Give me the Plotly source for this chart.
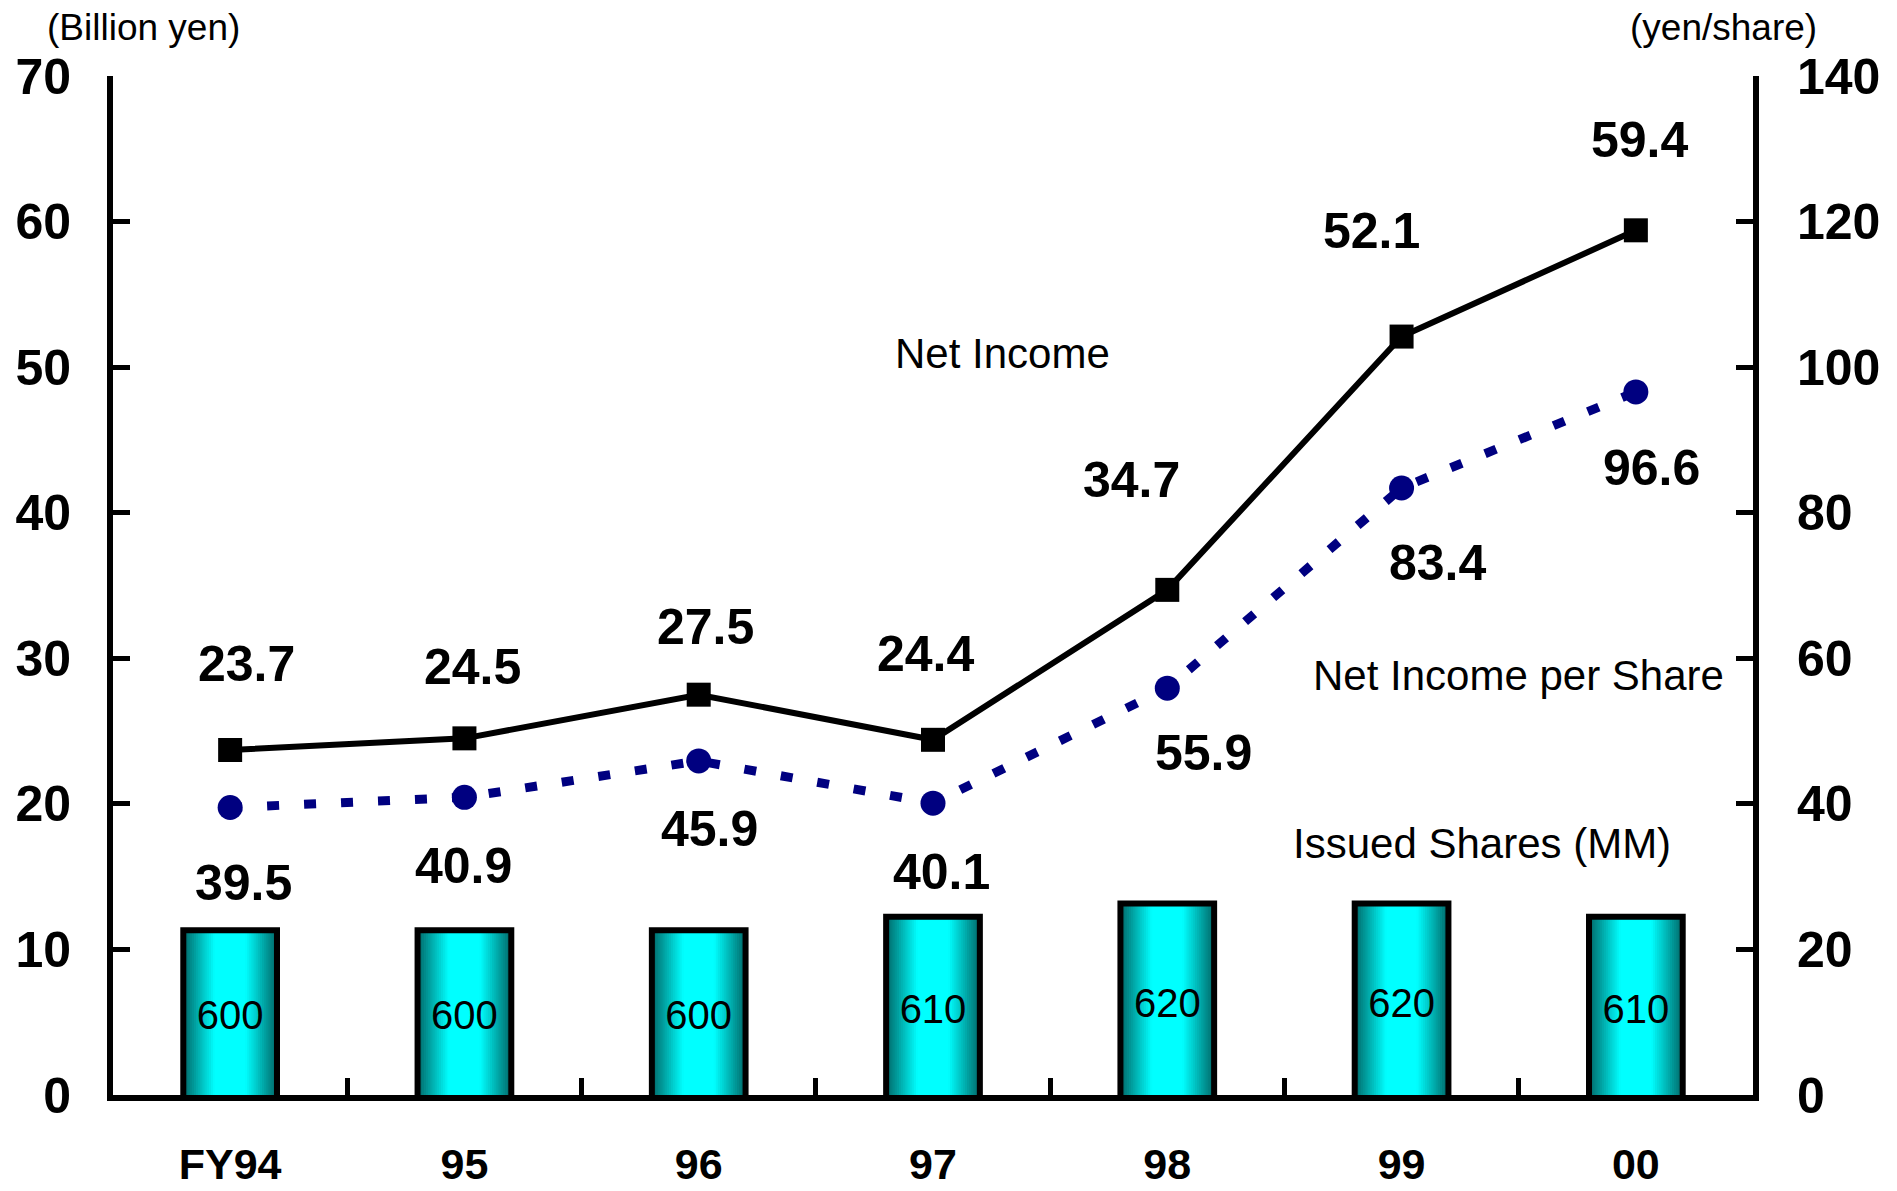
import plotly.graph_objects as go

# ---- data ----
years = ["FY94", "95", "96", "97", "98", "99", "00"]
net_income = [23.7, 24.5, 27.5, 24.4, 34.7, 52.1, 59.4]          # billion yen
eps = [39.5, 40.9, 45.9, 40.1, 55.9, 83.4, 96.6]                 # yen / share
issued_shares = [600, 600, 600, 610, 620, 620, 610]              # million shares
left_ticks = [0, 10, 20, 30, 40, 50, 60, 70]
right_ticks = [0, 20, 40, 60, 80, 100, 120, 140]

# ---- styling ----
NUM_FONT = "Liberation Sans, Arial, sans-serif"
TXT_FONT = "Liberation Sans, Arial, sans-serif"
SHARES_RANGE = [477.7, 1234.5]   # hidden scale used for the share columns
BAR_W = 0.40
N_LAYERS = 22
EDGE = (0, 108, 108)
CENTER = (0, 255, 255)

# label offsets (pixels) for the value labels of each line
ni_shift = [(16, 86), (8, 71), (7, 68), (-7, 86), (-36, 110), (-30, 106), (4, 90)]
eps_shift = [(13, -75), (-1, -69), (11, -68), (8, -69), (36, -65), (36, -75), (16, -76)]

W, H = 1897, 1191
L, R, T, B = 113, 144, 76, 96

fig = go.Figure()

# share columns: layered bars give a horizontal teal→cyan→teal gradient
for i in range(N_LAYERS):
    frac = 1 - i / N_LAYERS
    t = 0.0 if frac <= 0.35 else (frac - 0.35) / 0.65
    r, g, b = [round(c + (e - c) * t) for c, e in zip(CENTER, EDGE)]
    fig.add_trace(go.Bar(
        x=years, y=issued_shares, width=BAR_W * frac, yaxis="y",
        marker=dict(color=f"rgb({r},{g},{b})", line=dict(width=0)),
        hoverinfo="skip", showlegend=False))
# outline
fig.add_trace(go.Bar(
    x=years, y=issued_shares, width=BAR_W, yaxis="y",
    marker=dict(color="rgba(0,0,0,0)", line=dict(color="black", width=6)),
    hoverinfo="skip", showlegend=False))
# share counts inside the columns
fig.add_trace(go.Scatter(
    x=years, y=[SHARES_RANGE[0] + 0.46 * (v - SHARES_RANGE[0]) for v in issued_shares],
    yaxis="y", mode="text", text=[str(v) for v in issued_shares],
    textfont=dict(family=TXT_FONT, size=40, color="black"),
    showlegend=False, hoverinfo="skip"))

# net income (left axis)
fig.add_trace(go.Scatter(
    x=years, y=net_income, yaxis="y2", mode="lines+markers",
    line=dict(color="black", width=6),
    marker=dict(symbol="square", size=24, color="black"),
    showlegend=False))

# net income per share (right axis)
fig.add_trace(go.Scatter(
    x=years, y=eps, yaxis="y3", mode="lines+markers",
    line=dict(color="#000080", width=9, dash="12px,25px"),
    marker=dict(symbol="circle", size=25, color="#000080"),
    showlegend=False))

label_font = dict(family=NUM_FONT, size=50, color="black", weight="bold")
annotations = []
for i, (v, (dx, dy)) in enumerate(zip(net_income, ni_shift)):
    annotations.append(dict(x=i, y=v, xref="x", yref="y2", text=f"{v:.1f}",
                            showarrow=False, xshift=dx, yshift=dy, font=label_font))
for i, (v, (dx, dy)) in enumerate(zip(eps, eps_shift)):
    annotations.append(dict(x=i, y=v, xref="x", yref="y3", text=f"{v:.1f}",
                            showarrow=False, xshift=dx, yshift=dy, font=label_font))

# captions, placed in page pixels and converted to plot-area fractions
text_items = [
    ("(Billion yen)", 143, 27, 37),
    ("(yen/share)", 1723, 27, 37),
    ("Net Income", 1002, 354, 42),
    ("Net Income per Share", 1518, 675, 42),
    ("Issued Shares (MM)", 1482, 843, 42),
]
pw, ph = W - L - R, H - T - B
for txt, px, py, fs in text_items:
    annotations.append(dict(x=(px - L) / pw, y=1 - (py - T) / ph,
                            xref="paper", yref="paper",
                            xanchor="center", yanchor="middle", showarrow=False,
                            text=txt, font=dict(family=TXT_FONT, size=fs, color="black")))

tick_font = dict(family=NUM_FONT, size=50, color="black", weight="bold")
axis_common = dict(showgrid=False, zeroline=False, showline=True, linecolor="black",
                   linewidth=6, ticks="inside", ticklen=17, tickwidth=5, tickcolor="black",
                   tickfont=tick_font, automargin=False)

fig.update_layout(
    width=W, height=H,
    margin=dict(l=L, r=R, t=T, b=B, autoexpand=False),
    paper_bgcolor="white", plot_bgcolor="white",
    barmode="overlay",
    showlegend=False,
    xaxis=dict(type="category", range=[-0.5, 6.5], showgrid=False, zeroline=False,
               showline=True, linecolor="black", linewidth=6, automargin=False,
               ticks="inside", tickson="boundaries", ticklen=17, tickwidth=5,
               tickcolor="black", ticklabelstandoff=26,
               tickfont=dict(family=NUM_FONT, size=43, color="black", weight="bold")),
    yaxis=dict(range=SHARES_RANGE, visible=False, fixedrange=True),
    yaxis2=dict(overlaying="y", side="left", range=[0, 70], tickvals=left_ticks,
                ticklabelstandoff=26, anchor="x", **axis_common),
    yaxis3=dict(overlaying="y", side="right", range=[0, 140], tickvals=right_ticks,
                ticklabelstandoff=28, anchor="x", **axis_common),
    annotations=annotations,
)

fig.write_html("out.html")
